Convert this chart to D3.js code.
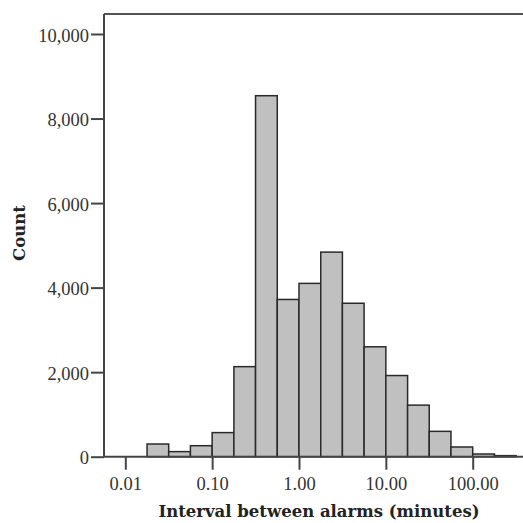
<!DOCTYPE html>
<html>
<head>
<meta charset="utf-8">
<title>Interval histogram</title>
<script src="https://d3js.org/d3.v7.min.js"></script>
<style>
  * { margin: 0; padding: 0; }
  body { background: #fff; }
  svg { display: block; }
</style>
</head>
<body>
<div id="chart"></div>
<script>
// bin edges (minutes), quarter-decade bins on a log axis
const binEdges = [0.0178, 0.0316, 0.0562, 0.1, 0.178, 0.316, 0.562, 1, 1.78, 3.16, 5.62, 10, 17.8, 31.6, 56.2, 100, 178, 316];
const counts = [300, 120, 260, 570, 2130, 8540, 3720, 4100, 4840, 3630, 2600, 1920, 1220, 600, 230, 64, 25];
const xTicks = [0.01, 0.1, 1, 10, 100];
const yTicks = [0, 2000, 4000, 6000, 8000, 10000];

const W = 523, H = 523;
const plotLeft = 104, plotTop = 14, base = 456.7;
const FONT = "'Liberation Serif', 'Times New Roman', serif";
const TITLE_FONT = "'DejaVu Serif', serif";

const svg = d3.select("#chart").append("svg")
  .attr("width", W).attr("height", H);

const x = d3.scaleLog().domain([0.01, 100]).range([125.3, 472.7]);
const y = d3.scaleLinear().domain([0, 10000]).range([base, 34]);

const bins = counts.map((c, i) => ({ x0: binEdges[i], x1: binEdges[i + 1], n: c }));

// bars
svg.append("g").selectAll("rect")
  .data(bins)
  .join("rect")
  .attr("x", d => x(d.x0))
  .attr("y", d => y(d.n))
  .attr("width", d => x(d.x1) - x(d.x0))
  .attr("height", d => base - y(d.n))
  .attr("fill", "#c0c0c0")
  .attr("stroke", "#2a2a2a")
  .attr("stroke-width", 1.5);

// frame: top line
svg.append("line")
  .attr("x1", plotLeft).attr("x2", W)
  .attr("y1", plotTop).attr("y2", plotTop)
  .attr("stroke", "#555").attr("stroke-width", 2);

// y axis
const yAxis = svg.append("g")
  .attr("transform", `translate(${plotLeft},0)`)
  .call(d3.axisLeft(y).tickValues(yTicks).tickSize(13).tickPadding(2)
    .tickFormat(d3.format(",")));
yAxis.select(".domain").remove();
yAxis.append("line")
  .attr("x1", 0).attr("x2", 0).attr("y1", plotTop).attr("y2", base)
  .attr("stroke", "#444").attr("stroke-width", 2);
yAxis.selectAll(".tick line").attr("stroke", "#444").attr("stroke-width", 2);
yAxis.selectAll("text")
  .attr("fill", "#333")
  .attr("dy", "0.38em")
  .style("font-family", FONT)
  .style("font-size", "18.5px");

// x axis
const xAxis = svg.append("g")
  .attr("transform", `translate(0,${base})`)
  .call(d3.axisBottom(x).tickValues(xTicks).tickSize(13).tickPadding(7)
    .tickFormat(d3.format(".2f")));
xAxis.select(".domain").remove();
xAxis.append("line")
  .attr("x1", plotLeft).attr("x2", W).attr("y1", 0).attr("y2", 0)
  .attr("stroke", "#444").attr("stroke-width", 2);
xAxis.selectAll(".tick line").attr("stroke", "#444").attr("stroke-width", 2);
xAxis.selectAll("text")
  .attr("fill", "#333")
  .style("font-family", FONT)
  .style("font-size", "18.5px");

// axis titles
svg.append("text")
  .attr("x", 319).attr("y", 517)
  .attr("text-anchor", "middle")
  .style("font-family", TITLE_FONT)
  .style("font-weight", "bold")
  .style("font-size", "16.5px")
  .attr("fill", "#222")
  .text("Interval between alarms (minutes)");

svg.append("text")
  .attr("transform", "translate(25,233) rotate(-90)")
  .attr("text-anchor", "middle")
  .style("font-family", TITLE_FONT)
  .style("font-weight", "bold")
  .style("font-size", "16.5px")
  .attr("fill", "#222")
  .text("Count");
</script>
</body>
</html>
